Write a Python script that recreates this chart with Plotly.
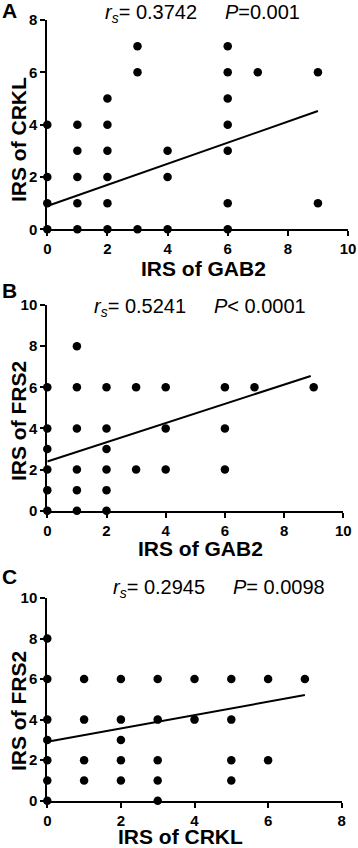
import plotly.graph_objects as go

# ---- Data ----
# Panel A: IRS of GAB2 (x) vs IRS of CRKL (y)
a_x = [0, 0, 0, 0,
       1, 1, 1, 1, 1,
       2, 2, 2, 2, 2, 2,
       3, 3, 3,
       4, 4, 4,
       6, 6, 6, 6, 6, 6, 6,
       7,
       9, 9]
a_y = [0, 1, 2, 4,
       0, 1, 2, 3, 4,
       0, 1, 2, 3, 4, 5,
       0, 6, 7,
       0, 2, 3,
       0, 1, 3, 4, 5, 6, 7,
       6,
       1, 6]
a_fit_x = [0, 9]
a_fit_y = [0.89, 4.52]

# Panel B: IRS of GAB2 (x) vs IRS of FRS2 (y)
b_x = [0, 0, 0, 0, 0, 0,
       1, 1, 1, 1, 1, 1,
       2, 2, 2, 2, 2, 2,
       3, 3,
       4, 4, 4,
       6, 6, 6,
       7,
       9]
b_y = [0, 1, 2, 3, 4, 6,
       0, 1, 2, 4, 6, 8,
       0, 1, 2, 3, 4, 6,
       2, 6,
       2, 4, 6,
       2, 4, 6,
       6,
       6]
b_fit_x = [0, 8.9]
b_fit_y = [2.39, 6.55]

# Panel C: IRS of CRKL (x) vs IRS of FRS2 (y)
c_x = [0, 0, 0, 0, 0, 0, 0,
       1, 1, 1, 1,
       2, 2, 2, 2, 2,
       3, 3, 3, 3, 3,
       4, 4,
       5, 5, 5, 5,
       6, 6,
       7]
c_y = [0, 1, 2, 3, 4, 6, 8,
       1, 2, 4, 6,
       1, 2, 3, 4, 6,
       0, 1, 2, 4, 6,
       4, 6,
       1, 2, 4, 6,
       2, 6,
       6]
c_fit_x = [0, 7]
c_fit_y = [2.91, 5.21]

panel_letters = ["A", "B", "C"]
x_titles = ["IRS of GAB2", "IRS of GAB2", "IRS of CRKL"]
y_titles = ["IRS of CRKL", "IRS of FRS2", "IRS of FRS2"]
stats = [("0.3742", "=0.001"), ("0.5241", "< 0.0001"), ("0.2945", "= 0.0098")]
x_ranges = [[0, 10], [0, 10], [0, 8]]
y_ranges = [[0, 8], [0, 10], [0, 10]]

# ---- Layout geometry (pixels) ----
W, H = 358, 848
FONT = "Liberation Sans, Arial, Helvetica, sans-serif"

def px_x(p):
    return p / W

def px_y(p):
    return 1 - p / H

# plot area boxes: (left, right, top, bottom) in pixels
boxes = [(47.3, 348.0, 20.0, 229.3),
         (47.3, 343.3, 305.0, 510.7),
         (47.3, 341.7, 598.0, 800.7)]

fig = go.Figure()

datasets = [(a_x, a_y, a_fit_x, a_fit_y),
            (b_x, b_y, b_fit_x, b_fit_y),
            (c_x, c_y, c_fit_x, c_fit_y)]

for i, (xs, ys, fx, fy) in enumerate(datasets):
    suffix = "" if i == 0 else str(i + 1)
    fig.add_trace(go.Scatter(x=fx, y=fy, mode="lines",
                             line=dict(color="black", width=2),
                             xaxis="x" + suffix, yaxis="y" + suffix,
                             hoverinfo="skip"))
    fig.add_trace(go.Scatter(x=xs, y=ys, mode="markers",
                             marker=dict(color="black", size=8.5),
                             cliponaxis=False,
                             xaxis="x" + suffix, yaxis="y" + suffix))

axis_common = dict(showline=True, linecolor="black", linewidth=2,
                   ticks="outside", ticklen=5, tickwidth=2, tickcolor="black",
                   showgrid=False, zeroline=False, dtick=2,
                   tickfont=dict(family=FONT, size=15, color="black", weight="bold"),
                   fixedrange=True, automargin=False)

layout = dict(width=W, height=H, margin=dict(l=0, r=0, t=0, b=0),
              paper_bgcolor="white", plot_bgcolor="white",
              showlegend=False, font=dict(family=FONT, color="black"))

annotations = []
# axis title / label positions (pixels)
xt_pos = [(203, 268), (200, 548), (180, 836)]
yt_pos = [(18, 140), (18, 421), (18, 711)]
letter_pos = [(9, 10), (9, 290), (9, 576)]
stat_pos = [(202, 13), (200, 307), (219, 588)]

GAP = "\u00a0" * 5

for i, (l, r, t, b) in enumerate(boxes):
    suffix = "" if i == 0 else str(i + 1)
    xa = dict(axis_common, domain=[px_x(l), px_x(r)], range=x_ranges[i],
              anchor="y" + suffix)
    ya = dict(axis_common, domain=[px_y(b), px_y(t)], range=y_ranges[i],
              anchor="x" + suffix)
    layout["xaxis" + suffix] = xa
    layout["yaxis" + suffix] = ya

    annotations.append(dict(text=x_titles[i], x=px_x(xt_pos[i][0]), y=px_y(xt_pos[i][1]),
                            xref="paper", yref="paper", showarrow=False,
                            xanchor="center", yanchor="middle",
                            font=dict(family=FONT, size=21, color="black", weight="bold")))
    annotations.append(dict(text=y_titles[i], x=px_x(yt_pos[i][0]), y=px_y(yt_pos[i][1]),
                            xref="paper", yref="paper", showarrow=False, textangle=-90,
                            xanchor="center", yanchor="middle",
                            font=dict(family=FONT, size=21, color="black", weight="bold")))
    annotations.append(dict(text=panel_letters[i], x=px_x(letter_pos[i][0]), y=px_y(letter_pos[i][1]),
                            xref="paper", yref="paper", showarrow=False,
                            xanchor="center", yanchor="middle",
                            font=dict(family=FONT, size=21, color="black", weight="bold")))
    rv, pv = stats[i]
    txt = ("<i>r<sub>s</sub></i>= " + rv + GAP + "<i>P</i>" + pv)
    annotations.append(dict(text=txt, x=px_x(stat_pos[i][0]), y=px_y(stat_pos[i][1]),
                            xref="paper", yref="paper", showarrow=False,
                            xanchor="center", yanchor="middle",
                            font=dict(family=FONT, size=20, color="black")))

layout["annotations"] = annotations
fig.update_layout(**layout)
fig.write_html("out.html", config={"displayModeBar": False},
               post_script="document.body.style.margin='0';document.body.style.overflow='hidden';")
